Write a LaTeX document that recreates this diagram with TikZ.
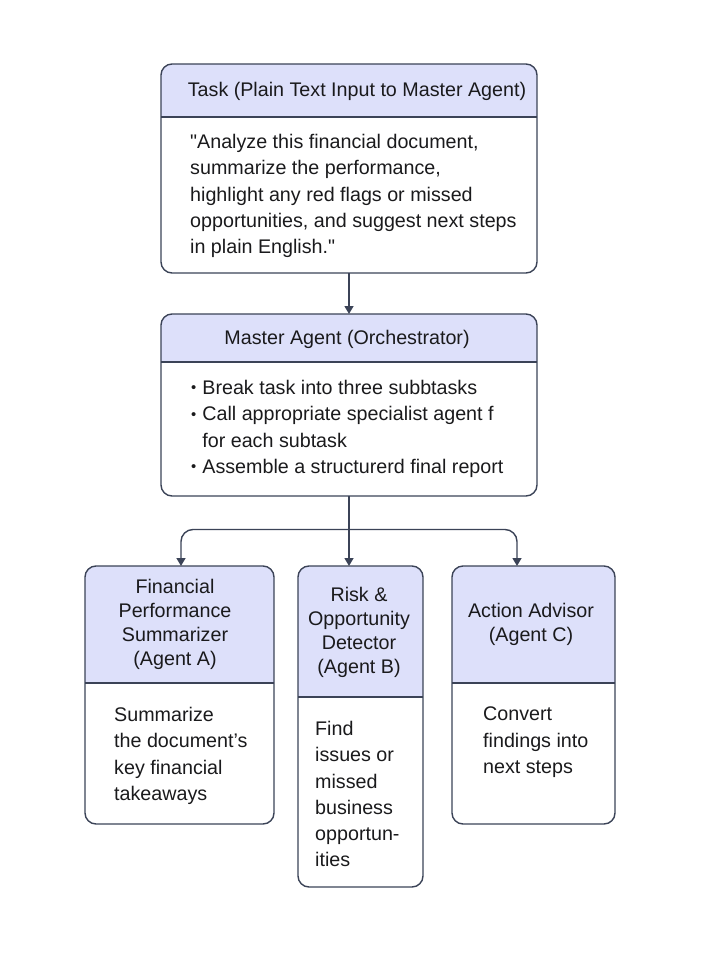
\documentclass[tikz,border=0pt]{standalone}
\usepackage{fontspec}
\setmainfont{Liberation Sans}
\usetikzlibrary{arrows.meta,calc}
\definecolor{edgecol}{HTML}{3B4357}
\definecolor{hdrcol}{HTML}{DDE0FA}
\definecolor{txtcol}{HTML}{1A1A1C}
\newcommand{\agbox}[6]{% name, x1, y1, x2, ydiv, y2
  \begin{scope}
    \clip[rounded corners=11pt] (#2,#3) rectangle (#4,#6);
    \fill[hdrcol] (#2,#3) rectangle (#4,#5);
  \end{scope}
  \draw[edgecol, line width=1.4pt] (#2,#5) -- (#4,#5);
  \node[frame, minimum width={#4-#2}, minimum height={#6-#3}] (#1) at ({(#2+#4)/2},{(#3+#6)/2}) {};
}
\newcommand{\mybul}{\raisebox{1.5pt}{\scalebox{0.75}{\textbullet}}\hspace{6pt}}
\begin{document}
\begin{tikzpicture}[x=1pt,y=-1pt,
  frame/.style={draw=edgecol, line width=1.4pt, rounded corners=11pt, inner sep=0pt, outer sep=0pt},
  hdrtext/.style={text=txtcol, align=center, inner sep=0pt, font=\fontsize{19.7}{24}\selectfont},
  bodytext/.style={text=txtcol, align=left, inner sep=0pt, anchor=north west, font=\fontsize{19.7}{26.3}\selectfont},
  conn/.style={draw=edgecol, line width=1.4pt},
  arr/.style={conn, -{Triangle[length=8pt,width=9pt]}}]
\useasboundingbox (0,0) rectangle (709,960);

% Task box
\agbox{task}{161}{64}{537}{117}{273}
\node[hdrtext] (taskh) at (357,91) {Task (Plain Text Input to Master Agent)};
\node[bodytext] (taskb) at (190,134) {\textquotedbl Analyze this financial document,\\summarize the performance,\\highlight any red flags or missed\\opportunities, and suggest next steps\\in plain English.\textquotedbl};

% Master box
\agbox{master}{161}{314}{537}{362}{496}
\node[hdrtext] (masterh) at (347,339) {Master Agent (Orchestrator)};
\node[bodytext] (masterb) at (191,380) {\mybul Break task into three subbtasks\\\mybul Call appropriate specialist agent f\\\phantom{\mybul}for each subtask\\\mybul Assemble a structurerd final report};

% Agent boxes
\agbox{agA}{85}{566}{274}{683}{824}
\node[hdrtext] (agAh) at (175,624.5) {Financial\\Performance\\Summarizer\\(Agent A)};
\node[bodytext] (agAb) at (114,707) {Summarize\\the document’s\\key financial\\takeaways};

\agbox{agB}{298}{566}{423}{697}{887}
\node[hdrtext] (agBh) at (359,632) {Risk \&\\Opportunity\\Detector\\(Agent B)};
\node[bodytext] (agBb) at (315,721) {Find\\issues or\\missed\\business\\opportun-\\ities};

\agbox{agC}{452}{566}{615}{683}{824}
\node[hdrtext] (agCh) at (531,624.5) {Action Advisor\\(Agent C)};
\node[bodytext] (agCb) at (483,707) {Convert\\findings into\\next steps};

% Connectors
\coordinate (fork) at (349,529.5);
\draw[arr] (task.south) -- (master.north);
\draw[arr] (master.south -| fork) -- (agB.north -| fork);
\draw[conn, rounded corners=12pt, -{Triangle[length=8pt,width=9pt]}] (fork) -| ([xshift=1.5pt]agA.north);
\draw[conn, rounded corners=12pt, -{Triangle[length=8pt,width=9pt]}] (fork) -| ([xshift=-16.5pt]agC.north);
\end{tikzpicture}
\end{document}
